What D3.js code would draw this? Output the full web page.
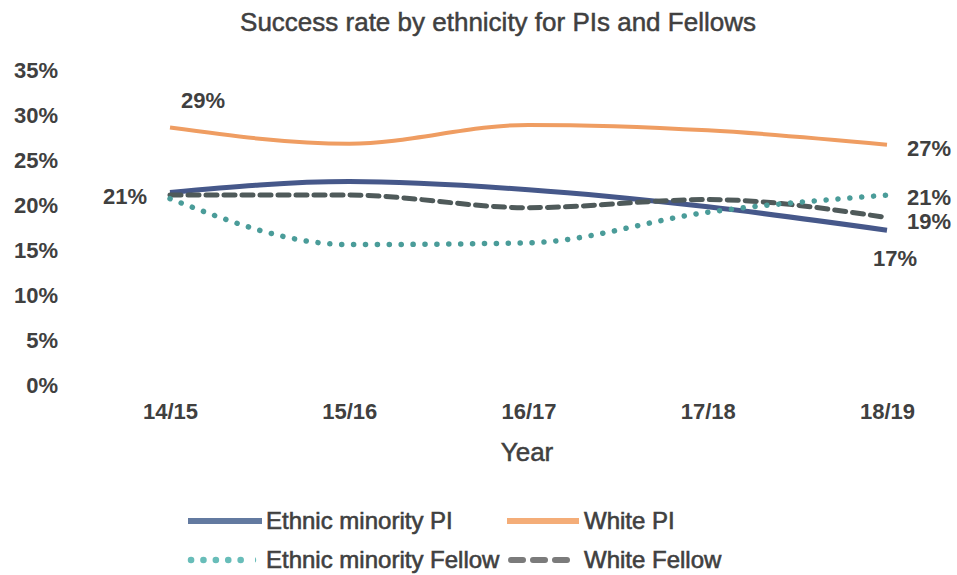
<!DOCTYPE html>
<meta charset="utf-8">
<style>
  body { margin: 0; background: #fff; }
  text { font-family: "Liberation Sans", Arial, sans-serif; fill: #404040; }
  .yAxisFormat text { font-size: 22px; font-weight: bold; }
  .xAxisFormat text { font-size: 22px; font-weight: bold; }
  .dataLabel { font-size: 22px; font-weight: bold; }
  .legendText { font-size: 24px; stroke: #404040; stroke-width: 0.6px; }
  .title { font-size: 26px; stroke: #404040; stroke-width: 0.5px; }
</style>
<body>
<script src="https://d3js.org/d3.v7.min.js"></script>
<script>

// data
var years = ["14/15", "15/16", "16/17", "17/18", "18/19"];
var ethnicMinorityPI = [21.4, 22.6, 21.7, 19.8, 17.2];
var whitePI = [28.6, 26.8, 28.9, 28.3, 26.7];
var ethnicMinorityFellow = [20.7, 15.6, 15.8, 19.2, 21.1];
var whiteFellow = [21.1, 21.1, 19.7, 20.6, 18.6];
var yTicks = [0, 5, 10, 15, 20, 25, 30, 35];

var width = 957, height = 575;

var svg = d3.select("body").append("svg")
    .attr("width", width)
    .attr("height", height);

var x = d3.scalePoint().domain(years).range([170, 887]);
var y = d3.scaleLinear().domain([0, 35]).range([385, 70]);

// series definitions (style kept here, values come from the arrays)
var series = [
  { name: "White PI", values: whitePI, color: "#ef9d62", width: 4, dash: null, cap: "butt" },
  { name: "Ethnic minority PI", values: ethnicMinorityPI, color: "#46588a", width: 5, dash: null, cap: "butt" },
  { name: "White Fellow", values: whiteFellow, color: "#4f5a5a", width: 5, dash: "11,7", cap: "round" },
  { name: "Ethnic minority Fellow", values: ethnicMinorityFellow, color: "#4a9c99", width: 5.5, dash: "0.1,11.8", cap: "round" }
];

var valueline = d3.line()
    .curve(d3.curveMonotoneX)
    .x(function(d, i) { return x(years[i]); })
    .y(function(d) { return y(d); });

// title
svg.append("text")
    .attr("class", "title")
    .attr("x", 498)
    .attr("y", 31)
    .attr("text-anchor", "middle")
    .text("Success rate by ethnicity for PIs and Fellows");

// y axis
svg.append("g")
    .attr("class", "yAxisFormat")
    .attr("transform", "translate(58,0)")
    .call(d3.axisLeft(y).tickValues(yTicks).tickSize(0).tickPadding(0)
      .tickFormat(function(d) { return d + "%"; }))
    .call(function(g) { g.select(".domain").remove(); });

// x axis
svg.append("g")
    .attr("class", "xAxisFormat")
    .attr("transform", "translate(0,403)")
    .call(d3.axisBottom(x).tickSize(0).tickPadding(0))
    .call(function(g) { g.select(".domain").remove(); });

svg.append("text")
    .attr("class", "title")
    .attr("x", 527)
    .attr("y", 461)
    .attr("text-anchor", "middle")
    .text("Year");

// lines
svg.selectAll("path.series")
    .data(series)
    .enter().append("path")
    .attr("class", "series")
    .attr("fill", "none")
    .attr("stroke", function(d) { return d.color; })
    .attr("stroke-width", function(d) { return d.width; })
    .attr("stroke-dasharray", function(d) { return d.dash; })
    .attr("stroke-linecap", function(d) { return d.cap; })
    .attr("d", function(d) { return valueline(d.values); });

// data labels
var labels = [
  { text: Math.round(whitePI[0]) + "%", x: x(years[0]) + 33, y: y(whitePI[0]) - 20, anchor: "middle" },
  { text: Math.round(ethnicMinorityPI[0] - 0.4) + "%", x: x(years[0]) - 23, y: y(ethnicMinorityPI[0]) + 12, anchor: "end" },
  { text: Math.round(whitePI[4]) + "%", x: x(years[4]) + 20, y: y(whitePI[4]) + 11, anchor: "start" },
  { text: Math.round(ethnicMinorityFellow[4]) + "%", x: x(years[4]) + 20, y: y(ethnicMinorityFellow[4]) + 10, anchor: "start" },
  { text: Math.round(whiteFellow[4] + 0.4) + "%", x: x(years[4]) + 20, y: y(whiteFellow[4]) + 11, anchor: "start" },
  { text: Math.round(ethnicMinorityPI[4] - 0.2) + "%", x: x(years[4]) + 8, y: y(ethnicMinorityPI[4]) + 36, anchor: "middle" }
];

svg.selectAll("text.dataLabel")
    .data(labels)
    .enter().append("text")
    .attr("class", "dataLabel")
    .attr("x", function(d) { return d.x; })
    .attr("y", function(d) { return d.y; })
    .attr("text-anchor", function(d) { return d.anchor; })
    .text(function(d) { return d.text; });

// legend
var legendItems = [
  { s: series[1], x: 188, y: 521, len: 74, lw: 6, color: "#637aa0", gap: 4 },
  { s: series[0], x: 507, y: 521, len: 72, lw: 6, color: "#f4ad78", gap: 5 },
  { s: series[3], x: 191, y: 560, len: 62, lw: 6.5, color: "#68bdb9", gap: 13 },
  { s: series[2], x: 511, y: 560, len: 58, lw: 6, color: "#7b7b7b", gap: 15 }
];

var legend = svg.selectAll("g.legend")
    .data(legendItems)
    .enter().append("g")
    .attr("class", "legend");

legend.append("line")
    .attr("x1", function(d) { return d.x; })
    .attr("x2", function(d) { return d.x + d.len; })
    .attr("y1", function(d) { return d.y; })
    .attr("y2", function(d) { return d.y; })
    .attr("stroke", function(d) { return d.color; })
    .attr("stroke-width", function(d) { return d.lw; })
    .attr("stroke-linecap", function(d) { return d.s.dash ? "round" : "butt"; })
    .attr("stroke-dasharray", function(d) { return d.s.dash === null ? null : (d.s.name === "White Fellow" ? "12,10" : "0.1,12.3"); });

legend.append("text")
    .attr("class", "legendText")
    .attr("x", function(d) { return d.x + d.len + d.gap; })
    .attr("y", function(d) { return d.y + 8; })
    .text(function(d) { return d.s.name; });

</script>
</body>
